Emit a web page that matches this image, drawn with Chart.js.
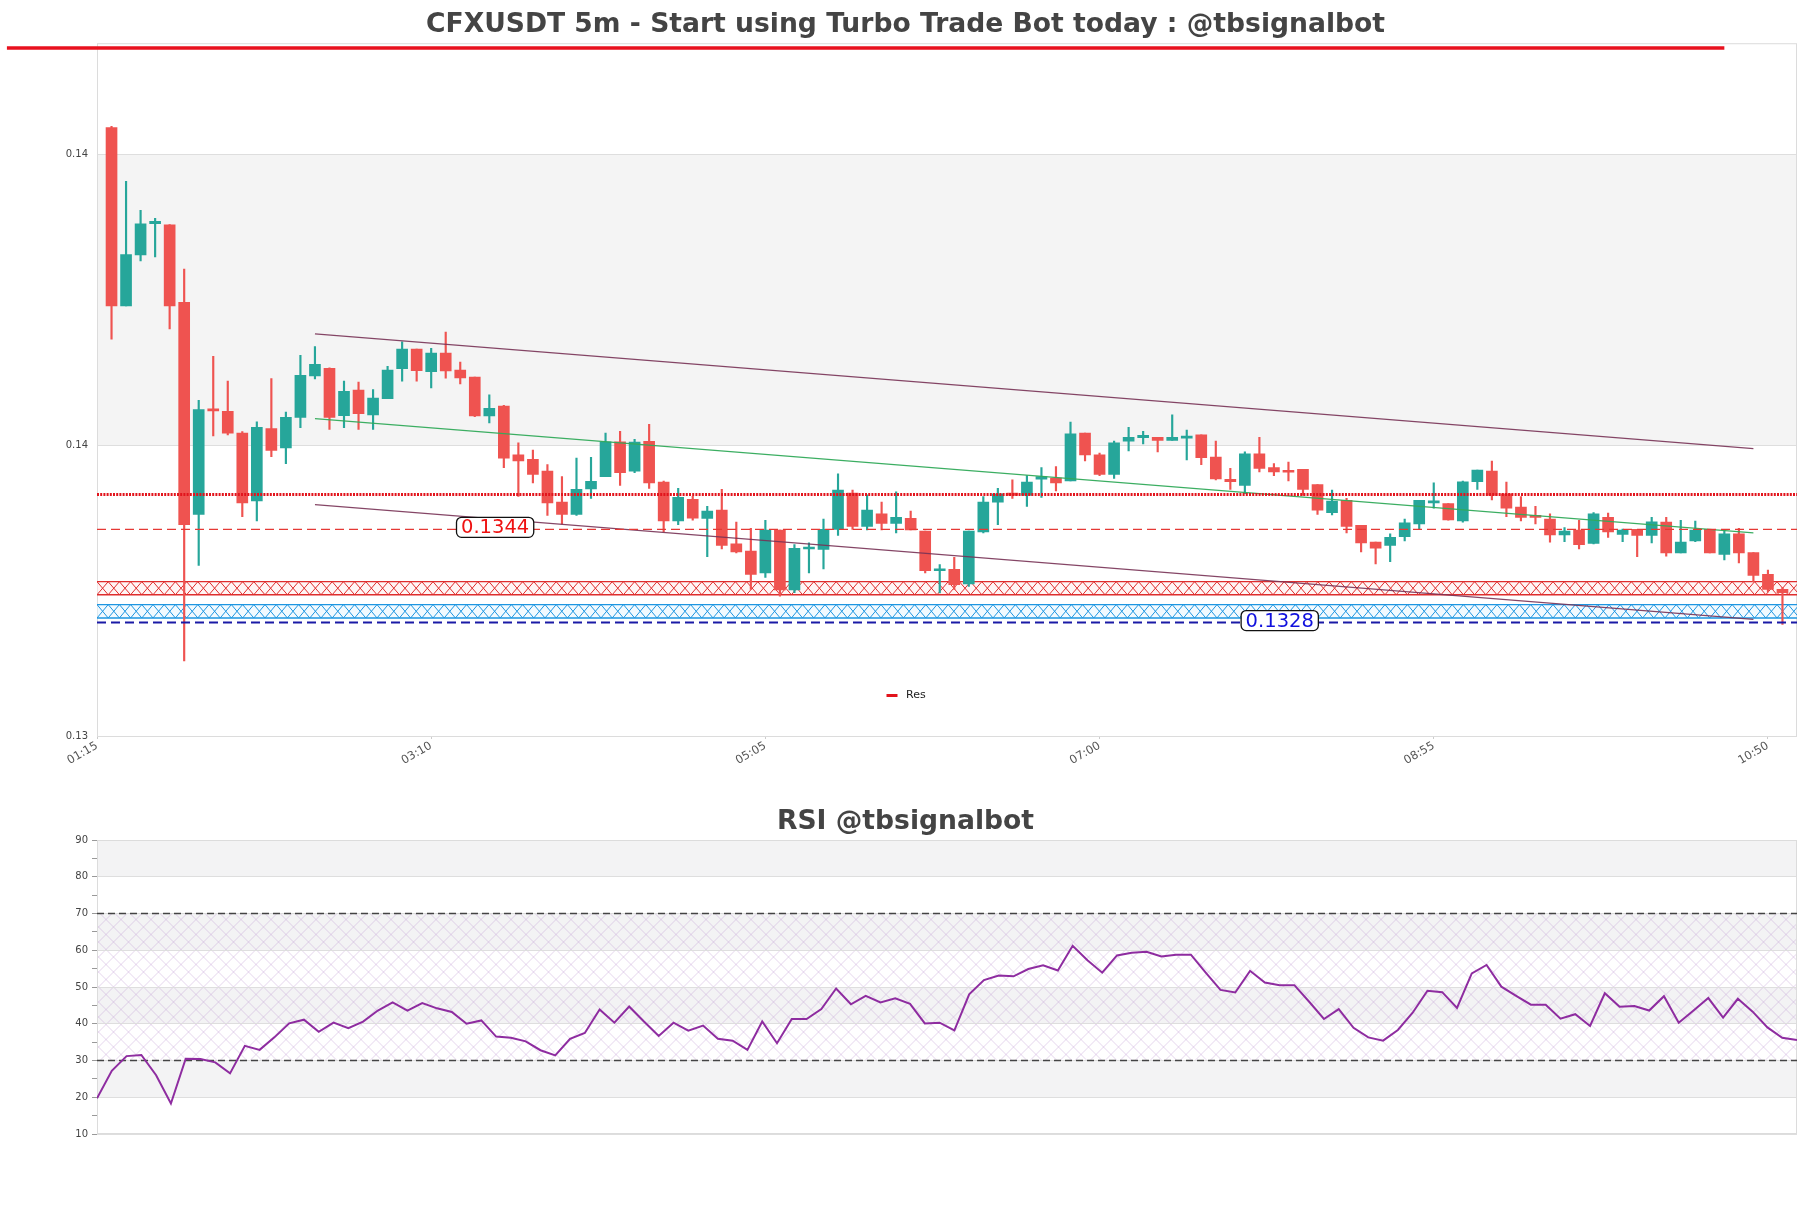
<!DOCTYPE html>
<html><head><meta charset="utf-8">
<script src="https://cdn.jsdelivr.net/npm/chart.js@4.4.1/dist/chart.umd.min.js"></script>
<style>
html,body{margin:0;padding:0;background:#fff;}
#wrap{position:relative;width:1811px;height:1208px;overflow:hidden;}
#c1{position:absolute;left:0;top:0;width:1811px;height:780px;}
#c2{position:absolute;left:0;top:780px;width:1811px;height:428px;}
</style></head><body>
<div id="wrap"><canvas id="c1" width="1811" height="780"></canvas><canvas id="c2" width="1811" height="428"></canvas></div>
<script>
// ---------------- DATA ----------------
const mainTitle = 'CFXUSDT 5m - Start using Turbo Trade Bot today : @tbsignalbot';
const rsiTitle = 'RSI @tbsignalbot';
const xTickLabels = ['01:15', '03:10', '05:05', '07:00', '08:55', '10:50'];
const xTickIndex = [0, 23, 46, 69, 92, 115];
const yTicks = [0.13084, 0.13584, 0.14084];
const yMin = 0.130837, yMax = 0.142741;

const opens = [0.141295,0.138234,0.139107,0.139643,0.139624,0.138297,0.134656,0.136457,0.136426,0.136052,
0.134886,0.136127,0.135797,0.13632,0.137031,0.137162,0.136351,0.136788,0.136364,0.136644,
0.137156,0.137492,0.137106,0.137424,0.137131,0.137012,0.136345,0.136513,0.135678,0.135603,
0.135398,0.134868,0.134656,0.135092,0.135304,0.135902,0.135398,0.135909,0.13521,0.134543,
0.134917,0.134587,0.13473,0.134151,0.134026,0.133652,0.134388,0.133359,0.134063,0.134057,
0.1344,0.135023,0.13445,0.134668,0.1345,0.134587,0.134369,0.133689,0.133714,0.133465,
0.134356,0.134868,0.135023,0.13498,0.13526,0.135279,0.135229,0.136052,0.135678,0.135341,
0.135915,0.135971,0.135977,0.135927,0.135965,0.136021,0.135641,0.13526,0.135154,0.135697,
0.13546,0.135398,0.135429,0.135167,0.134687,0.134899,0.134469,0.134182,0.134126,0.134275,
0.134494,0.134855,0.134843,0.134543,0.135217,0.135398,0.135011,0.13478,0.134637,0.134575,
0.134306,0.134388,0.134157,0.134606,0.134313,0.1344,0.134294,0.134525,0.133995,0.1342,
0.1344,0.13397,0.134325,0.134001,0.133627,0.133371];
const closes = [0.138234,0.139113,0.139643,0.139687,0.138234,0.134481,0.136457,0.136432,0.136052,0.134855,
0.136152,0.135753,0.13632,0.137043,0.13723,0.13632,0.136769,0.136383,0.136651,0.137131,
0.137492,0.137124,0.137424,0.137118,0.137,0.136345,0.136476,0.135622,0.135572,0.135341,
0.134855,0.134656,0.135086,0.135223,0.135902,0.135373,0.135896,0.135198,0.134543,0.134949,
0.134593,0.134712,0.134126,0.134013,0.133627,0.134388,0.133359,0.134076,0.134076,0.1344,
0.135073,0.13445,0.13473,0.1345,0.134606,0.134388,0.133689,0.133702,0.133452,0.134369,
0.134868,0.135011,0.13498,0.13521,0.135304,0.135198,0.13604,0.135678,0.135341,0.135884,
0.135977,0.136015,0.135927,0.135977,0.135977,0.135628,0.135267,0.135217,0.135697,0.135447,
0.135385,0.135379,0.135086,0.13473,0.134886,0.13445,0.134169,0.134076,0.134263,0.134512,
0.134899,0.134868,0.134562,0.135217,0.135416,0.13498,0.134762,0.134606,0.134606,0.134306,
0.134369,0.134138,0.134668,0.134356,0.134388,0.134294,0.134531,0.133995,0.134182,0.134388,
0.133995,0.134325,0.133995,0.133608,0.133371,0.133315];
const highs = [0.141314,0.140373,0.139874,0.139737,0.13963,0.138864,0.136613,0.137368,0.136944,0.136077,
0.136245,0.136987,0.136414,0.137386,0.137536,0.13717,0.136944,0.136925,0.1368,0.137199,
0.137617,0.137492,0.137505,0.137785,0.137268,0.137012,0.136707,0.136526,0.135884,0.135759,
0.13551,0.135304,0.135622,0.135634,0.136052,0.136083,0.135946,0.136202,0.135229,0.135104,
0.134967,0.134793,0.135086,0.134525,0.134419,0.134556,0.134388,0.134138,0.134169,0.134575,
0.135354,0.135073,0.134992,0.134868,0.135042,0.134712,0.134369,0.133795,0.13392,0.134369,
0.134961,0.135104,0.135248,0.135323,0.13546,0.135479,0.136239,0.136052,0.135709,0.135915,
0.136152,0.136083,0.135977,0.136364,0.136102,0.136021,0.135915,0.135447,0.135728,0.135977,
0.135528,0.135553,0.135429,0.135167,0.135073,0.13493,0.134469,0.134182,0.134325,0.134575,
0.134899,0.135198,0.134843,0.135229,0.135416,0.135572,0.13521,0.134961,0.134793,0.134668,
0.134431,0.134556,0.134687,0.134681,0.134406,0.1344,0.134606,0.134606,0.134556,0.134543,
0.1344,0.134388,0.134419,0.134001,0.133702,0.133402];
const lows = [0.137661,0.138234,0.139007,0.139076,0.137841,0.132143,0.133783,0.136002,0.136021,0.134618,
0.134543,0.135647,0.135528,0.136146,0.136981,0.136114,0.136146,0.136114,0.136114,0.136644,
0.136944,0.136944,0.136825,0.136994,0.136894,0.136333,0.136227,0.13546,0.134967,0.135198,
0.134637,0.134494,0.134637,0.13493,0.135304,0.135154,0.135373,0.135104,0.134356,0.134481,
0.134556,0.133932,0.134063,0.133995,0.133371,0.133577,0.133253,0.133315,0.133652,0.13372,
0.134294,0.1344,0.134388,0.134388,0.134338,0.134388,0.133652,0.133309,0.133371,0.133421,
0.134338,0.134481,0.13493,0.134793,0.134949,0.135061,0.135229,0.135572,0.135323,0.135273,
0.135747,0.135865,0.135728,0.135927,0.135591,0.13551,0.135248,0.135086,0.135011,0.135385,
0.135323,0.135229,0.13498,0.134656,0.134649,0.134338,0.134013,0.133808,0.133845,0.1342,
0.1344,0.134762,0.134556,0.134525,0.135086,0.134905,0.134618,0.134543,0.134494,0.134182,
0.134188,0.134063,0.134151,0.134263,0.134188,0.133932,0.134169,0.133939,0.133995,0.134188,
0.133995,0.133876,0.133826,0.133502,0.133328,0.132767];

const rsi = [19.7,27.2,31.2,31.5,26.0,18.3,30.5,30.4,29.5,26.5,
34.0,32.9,36.3,40.1,41.1,37.8,40.3,38.8,40.6,43.6,
45.8,43.6,45.6,44.2,43.2,40.0,40.9,36.5,36.2,35.2,
32.8,31.4,35.9,37.5,43.9,40.3,44.7,40.6,36.7,40.3,
38.1,39.5,35.9,35.4,32.9,40.6,34.7,41.3,41.3,44.0,
49.6,45.3,47.6,45.8,46.9,45.4,40.1,40.3,38.2,48.0,
51.9,53.1,52.9,54.9,55.9,54.5,61.2,57.3,53.9,58.6,
59.3,59.6,58.3,58.8,58.8,53.9,49.2,48.5,54.4,51.2,
50.5,50.5,46.0,41.3,44.0,38.9,36.3,35.4,38.3,43.0,
49.0,48.6,44.3,53.7,56.0,50.1,47.6,45.2,45.2,41.4,
42.6,39.4,48.3,44.6,44.8,43.6,47.5,40.3,43.6,47.0,
41.7,46.8,43.3,39.0,36.2,35.6];
const rsiTicks = [10,15,20,25,30,35,40,45,50,55,60,65,70,75,80,85,90];

// levels
const resLevel = 0.1350;
const levelRed = 0.1344;
const levelBlue = 0.1328;
const zoneLows = [0.133278, 0.132879];
const zoneHighs = [0.133502, 0.133109];
const labelTexts = ['0.1344', '0.1328'];
const labelIdx = [27.4, 81.4];
const labelVals = [0.1344, 0.1328];
// trend lines: [startIdx, startVal, endIdx, endVal]
const upperLine = [15, 0.137754, 114, 0.135784];
const midLine = [15, 0.136301, 114, 0.134338];
const lowerLine = [15, 0.134824, 114, 0.132854];
const topLine = [-6.2, 0.14266, 112.0, 0.14266];
const mainBands = [[0.13584, 0.14084]];
const rsiBands = [[80,90],[60,70],[40,50],[20,30]];
const rsiHatch = [30, 70];

// ---------------- STYLE ----------------
const FONT = 'DejaVu Sans';
Chart.defaults.font.family = FONT;
const upColor = '#26a69a', downColor = '#ef5350';
const candleColors = opens.map((o, i) => closes[i] >= o ? upColor : downColor);

const bandsPlugin = {
  id: 'bands',
  beforeDraw(chart, args, opts) {
    const { ctx, chartArea: a, scales: { y } } = chart;
    ctx.save();
    ctx.fillStyle = opts.color || '#f4f4f4';
    (opts.bands || []).forEach(([lo, hi]) => {
      const t = y.getPixelForValue(hi), b = y.getPixelForValue(lo);
      ctx.fillRect(a.left, t, a.width, b - t);
    });
    if (opts.hatch) {
      const t = y.getPixelForValue(opts.hatch[1]), b = y.getPixelForValue(opts.hatch[0]);
      ctx.beginPath(); ctx.rect(a.left, t, a.width, b - t); ctx.clip();
      ctx.strokeStyle = opts.hatchColor; ctx.lineWidth = 0.9;
      const h = b - t, step = 15;
      ctx.beginPath();
      for (let x = a.left - h; x < a.right + h; x += step) {
        ctx.moveTo(x, t); ctx.lineTo(x + h, b);
        ctx.moveTo(x + h, t); ctx.lineTo(x, b);
      }
      ctx.stroke();
    }
    ctx.restore();
  },
  beforeDatasetsDraw(chart, args, opts) {
    const { ctx, chartArea: a } = chart;
    ctx.save();
    ctx.strokeStyle = '#dcdcdc'; ctx.lineWidth = 1;
    ctx.strokeRect(a.left + 0.5, a.top + 0.5, a.width - 1, a.height - 1);
    ctx.restore();
  }
};

const zonesPlugin = {
  id: 'zones',
  beforeDatasetsDraw(chart, args, opts) {
    const { ctx, chartArea: a, scales: { y } } = chart;
    zoneLows.forEach((lo, i) => {
      const t = y.getPixelForValue(zoneHighs[i]), b = y.getPixelForValue(lo);
      const h = b - t, step = 11.2;
      const col = opts.colors[i];
      ctx.save();
      ctx.fillStyle = opts.fills[i];
      ctx.fillRect(a.left, t, a.width, h);
      ctx.beginPath(); ctx.rect(a.left, t, a.width, h); ctx.clip();
      ctx.strokeStyle = col; ctx.lineWidth = 1;
      ctx.beginPath();
      for (let x = a.left; x < a.right + step; x += step) {
        ctx.moveTo(x, t); ctx.lineTo(x + step, b);
        ctx.moveTo(x + step, t); ctx.lineTo(x, b);
      }
      ctx.stroke();
      ctx.restore();
      ctx.save();
      ctx.strokeStyle = col; ctx.lineWidth = 1.3;
      ctx.beginPath();
      ctx.moveTo(a.left, t); ctx.lineTo(a.right, t);
      ctx.moveTo(a.left, b); ctx.lineTo(a.right, b);
      ctx.stroke();
      ctx.restore();
    });
  }
};

function roundRect(ctx, x, y, w, h, r) {
  ctx.beginPath();
  ctx.moveTo(x + r, y);
  ctx.lineTo(x + w - r, y); ctx.arcTo(x + w, y, x + w, y + r, r);
  ctx.lineTo(x + w, y + h - r); ctx.arcTo(x + w, y + h, x + w - r, y + h, r);
  ctx.lineTo(x + r, y + h); ctx.arcTo(x, y + h, x, y + h - r, r);
  ctx.lineTo(x, y + r); ctx.arcTo(x, y, x + r, y, r);
  ctx.closePath();
}

const labelsPlugin = {
  id: 'levelLabels',
  afterDatasetsDraw(chart, args, opts) {
    const { ctx, scales: { x, y } } = chart;
    labelTexts.forEach((txt, i) => {
      const cx = x.getPixelForValue(labelIdx[i]);
      const cy = y.getPixelForValue(labelVals[i]) - 2;
      ctx.save();
      ctx.font = '19.5px ' + FONT;
      const w = ctx.measureText(txt).width + 9, h = 20;
      roundRect(ctx, cx - w / 2, cy - h / 2, w, h, 5);
      ctx.fillStyle = '#fff'; ctx.fill();
      ctx.strokeStyle = '#111'; ctx.lineWidth = 1.3; ctx.stroke();
      ctx.fillStyle = opts.colors[i];
      ctx.textAlign = 'center'; ctx.textBaseline = 'middle';
      ctx.fillText(txt, cx, cy + 1);
      ctx.restore();
    });
  }
};

const legendPlugin = {
  id: 'miniLegend',
  afterDraw(chart, args, opts) {
    const { ctx, chartArea: a } = chart;
    const ds = chart.data.datasets.find(d => d.label === opts.label);
    if (!ds) return;
    const cx = chart.width / 2, cy = a.bottom - 41.5;
    ctx.save();
    ctx.strokeStyle = ds.borderColor; ctx.lineWidth = 3;
    ctx.beginPath(); ctx.moveTo(cx - 19, cy); ctx.lineTo(cx - 8, cy); ctx.stroke();
    ctx.fillStyle = '#222'; ctx.font = '11px ' + FONT;
    ctx.textAlign = 'left'; ctx.textBaseline = 'middle';
    ctx.fillText(ds.label, cx + 0.5, cy);
    ctx.restore();
  }
};

function seg(arr) { return [{ x: arr[0], y: arr[1] }, { x: arr[2], y: arr[3] }]; }
function hline(v, x0, x1) { return [{ x: x0, y: v }, { x: x1, y: v }]; }

// ---------------- MAIN CHART ----------------
new Chart(document.getElementById('c1'), {
  type: 'bar',
  data: {
    datasets: [
      { type: 'bar', label: 'wick', data: lows.map((l, i) => ({ x: i + 1, y: [l, highs[i]] })),
        backgroundColor: candleColors, barThickness: 1.5, grouped: false, order: 3 },
      { type: 'bar', label: 'body', data: opens.map((o, i) => ({ x: i + 1, y: [o, closes[i]] })),
        backgroundColor: candleColors, barThickness: 11, minBarLength: 2, grouped: false, order: 2 },
      { type: 'line', label: 'Res', data: hline(resLevel, 0, 117), borderColor: '#e2141c', borderWidth: 3,
        borderDash: [2, 1.2], pointRadius: 0, order: 1 },
      { type: 'line', label: 'lvl1', data: hline(levelRed, 0, 117), borderColor: '#e53935', borderWidth: 1.4,
        borderDash: [9, 5], pointRadius: 0, order: 1 },
      { type: 'line', label: 'lvl2', data: hline(levelBlue, 0, 117), borderColor: '#1a1aa6', borderWidth: 2,
        borderDash: [9, 5], pointRadius: 0, order: 1 },
      { type: 'line', label: 'upper', data: seg(upperLine), borderColor: 'rgba(120,50,85,0.9)', borderWidth: 1.3, pointRadius: 0, order: 1 },
      { type: 'line', label: 'mid', data: seg(midLine), borderColor: 'rgba(50,170,90,0.95)', borderWidth: 1.2, pointRadius: 0, order: 1 },
      { type: 'line', label: 'lower', data: seg(lowerLine), borderColor: 'rgba(120,50,85,0.9)', borderWidth: 1.3, pointRadius: 0, order: 1 },
      { type: 'line', label: 'top', data: seg(topLine), borderColor: '#e8111e', borderWidth: 3.5, pointRadius: 0, clip: false, order: 0 }
    ]
  },
  options: {
    responsive: false, animation: false, devicePixelRatio: 1,
    layout: { padding: { left: 14, right: 14, top: 0, bottom: 0 } },
    plugins: {
      legend: { display: false }, tooltip: { enabled: false },
      title: { display: true, text: mainTitle, color: '#444', font: { family: FONT, size: 26.6, weight: 'bold' }, padding: { top: 9, bottom: 2.3 } },
      bands: { bands: mainBands, color: '#f4f4f4' },
      zones: { colors: ['rgb(222,45,45)', 'rgb(30,150,225)'], fills: ['rgba(255,235,235,0.5)', 'rgba(230,245,255,0.5)'] },
      levelLabels: { colors: ['#ee1111', '#1111dd'] },
      miniLegend: { label: 'Res' }
    },
    scales: {
      x: {
        type: 'linear', min: 0, max: 117, offset: false,
        afterBuildTicks: s => { s.ticks = xTickIndex.map(v => ({ value: v })); },
        afterFit: s => { s.height = 43; },
        ticks: { autoSkip: false, minRotation: 30, maxRotation: 30, padding: 0, color: '#555', font: { size: 11.5 },
          callback: (v, i) => xTickLabels[i] },
        grid: { drawOnChartArea: false, offset: false, tickLength: 2, color: '#ccc' },
        border: { display: false }
      },
      y: {
        min: yMin, max: yMax,
        afterBuildTicks: s => { s.ticks = yTicks.map(v => ({ value: v })); },
        afterFit: s => { s.width = 83; },
        ticks: { padding: 9, color: '#444', font: { size: 10 }, callback: v => Number(v).toFixed(2) },
        grid: { color: '#dedede', drawTicks: false },
        border: { display: false }
      }
    }
  },
  plugins: [bandsPlugin, zonesPlugin, labelsPlugin, legendPlugin]
});

// ---------------- RSI CHART ----------------
new Chart(document.getElementById('c2'), {
  type: 'line',
  data: {
    datasets: [
      { label: 'RSI', data: rsi.map((v, i) => ({ x: i, y: v })), borderColor: '#8e2ca0', borderWidth: 2,
        pointRadius: 0, tension: 0, order: 1 },
      { label: '70', data: hline(70, 0, rsi.length - 1), borderColor: '#444', borderWidth: 1.4, borderDash: [7, 4], pointRadius: 0, order: 2 },
      { label: '30', data: hline(30, 0, rsi.length - 1), borderColor: '#444', borderWidth: 1.4, borderDash: [7, 4], pointRadius: 0, order: 2 }
    ]
  },
  options: {
    responsive: false, animation: false, devicePixelRatio: 1,
    layout: { padding: { left: 14, right: 14, top: 21, bottom: 74 } },
    plugins: {
      legend: { display: false }, tooltip: { enabled: false },
      title: { display: true, text: rsiTitle, color: '#444', font: { family: FONT, size: 26.6, weight: 'bold' }, padding: { top: 5.3, bottom: 1.8 } },
      bands: { bands: rsiBands, color: '#f3f3f4', hatch: rsiHatch, hatchColor: 'rgba(195,160,215,0.5)' }
    },
    scales: {
      x: { type: 'linear', min: 0, max: rsi.length - 1, display: false },
      y: {
        min: 10, max: 90,
        afterBuildTicks: s => { s.ticks = rsiTicks.map(v => ({ value: v })); },
        afterFit: s => { s.width = 83; },
        ticks: { padding: 4, color: '#444', font: { size: 10 }, autoSkip: false,
          callback: v => (v % 10 === 0 ? String(v) : '') },
        grid: { color: c => (c.tick && c.tick.value % 10 === 0 ? '#dedede' : 'rgba(0,0,0,0)'), tickColor: '#999', tickLength: 5 },
        border: { display: false }
      }
    }
  },
  plugins: [bandsPlugin]
});
</script></body></html>
